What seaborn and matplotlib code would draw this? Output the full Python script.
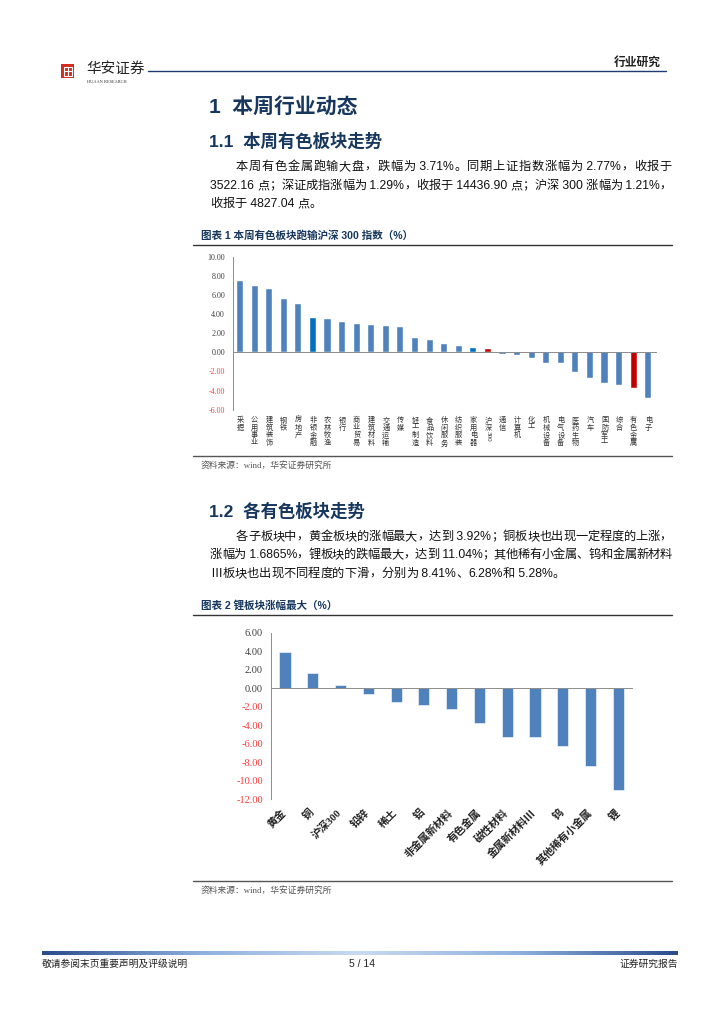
import matplotlib
matplotlib.use('Agg')
import matplotlib.pyplot as plt
import matplotlib.transforms as mtrans
from matplotlib.lines import Line2D
from matplotlib.patches import Rectangle
from matplotlib.colors import LinearSegmentedColormap
import seaborn as sns
import pandas as pd
import numpy as np

sns.set_theme(style='white')
plt.rcParams['font.family'] = ['Liberation Sans', 'Noto Sans CJK SC', 'DejaVu Sans']
plt.rcParams['axes.unicode_minus'] = False

# ---------------- data ----------------
sectors = ['采掘', '公用事业', '建筑装饰', '钢铁', '房地产', '非银金融', '农林牧渔', '银行',
           '商业贸易', '建筑材料', '交通运输', '传媒', '轻工制造', '食品饮料', '休闲服务',
           '纺织服装', '家用电器', '沪深300', '通信', '计算机', '化工', '机械设备', '电气设备',
           '医药生物', '汽车', '国防军工', '综合', '有色金属', '电子']
sector_chg = [7.49, 6.93, 6.59, 5.57, 5.09, 3.62, 3.48, 3.14, 3.00, 2.89, 2.72, 2.61,
              1.53, 1.29, 0.87, 0.63, 0.45, 0.31, -0.17, -0.25, -0.60, -1.15, -1.15,
              -2.03, -2.66, -3.25, -3.43, -3.71, -4.76]
dark_sectors = ['非银金融', '家用电器']
red_sectors = ['沪深300', '有色金属']
ticks1 = [-6, -4, -2, 0, 2, 4, 6, 8, 10]

subsectors = ['黄金', '铜', '沪深300', '铅锌', '稀土', '铝', '非金属新材料', '有色金属',
              '磁性材料', '金属新材料Ⅲ', '钨', '其他稀有小金属', '锂']
sub_chg = [3.92, 1.6865, 0.32, -0.58, -1.44, -1.80, -2.27, -3.71, -5.22, -5.28, -6.28,
           -8.41, -11.04]
ticks2 = [-12, -10, -8, -6, -4, -2, 0, 2, 4, 6]

para1 = ['本周有色金属跑输大盘，跌幅为 3.71%。同期上证指数涨幅为 2.77%，收报于',
         '3522.16 点；深证成指涨幅为 1.29%，收报于 14436.90 点；沪深 300 涨幅为 1.21%，',
         '收报于 4827.04 点。']
para2 = ['各子板块中，黄金板块的涨幅最大，达到 3.92%；铜板块也出现一定程度的上涨，',
         '涨幅为 1.6865%，锂板块的跌幅最大，达到 11.04%；其他稀有小金属、钨和金属新材料',
         'Ⅲ板块也出现不同程度的下滑，分别为 8.41%、6.28%和 5.28%。']

# ---------------- page ----------------
W, H = 724, 1024
fig = plt.figure(figsize=(W / 100, H / 100), dpi=100)
fig.patch.set_facecolor('white')
renderer = fig.canvas.get_renderer()


def fx(x):
    return x / W


def fy(y):
    return 1 - y / H


def ptext(x, y, s, **kw):
    return fig.text(fx(x), fy(y), s, **kw)


def hline(x0, x1, y, **kw):
    fig.add_artist(Line2D([fx(x0), fx(x1)], [fy(y), fy(y)], transform=fig.transFigure, **kw))


def tokenize(s):
    toks, run = [], ''
    for c in s:
        if ord(c) < 0x2000:
            run += c
        else:
            if run:
                toks.append(run)
                run = ''
            toks.append(c)
    if run:
        toks.append(run)
    return toks


def justify(x0, x1, y, s, justified=True, **kw):
    toks = tokenize(s)
    arts = [ptext(0, y, t, va='center', ha='left', **kw) for t in toks]
    widths = [a.get_window_extent(renderer).width for a in arts]
    if justified and len(toks) > 1:
        gap = (x1 - x0 - sum(widths)) / (len(toks) - 1)
    else:
        gap = 0.0
    x = x0
    for a, w in zip(arts, widths):
        a.set_position((fx(x), fy(y)))
        x += w + gap


NAVY = '#17375E'
BLUE = '#4F81BD'
DARK = '#0070C0'
RED = '#C00000'
NEG = '#FF3B3B'
GRAY_AX = '#8C8C8C'
SERIF = ['Liberation Serif', 'Noto Sans CJK SC']

# header
fig.add_artist(Rectangle((fx(61), fy(78)), fx(74) - fx(61), fy(64) - fy(78),
                         transform=fig.transFigure, facecolor='#D42A1F', edgecolor='none'))
fig.add_artist(Rectangle((fx(63.5), fy(75.5)), fx(71.5) - fx(63.5), fy(66.5) - fy(75.5),
                         transform=fig.transFigure, facecolor='none', edgecolor='white', lw=0.8))
fig.add_artist(Line2D([fx(67.5), fx(67.5)], [fy(66.5), fy(75.5)], transform=fig.transFigure,
                      color='white', lw=0.8))
fig.add_artist(Line2D([fx(63.5), fx(71.5)], [fy(71), fy(71)], transform=fig.transFigure,
                      color='white', lw=0.8))
ptext(86, 69, '华安证券', fontsize=10.5, color='#222222', va='center', ha='left')
ptext(87, 82, 'HUAAN RESEARCH', fontsize=3.2, color='#333333', va='center', ha='left',
      family=SERIF)
hline(148, 666, 71, color='#1F3A6E', lw=1.0)
ptext(661, 63, '行业研究', fontsize=8.5, fontweight='bold', color='#222222', va='center',
      ha='right')

# headings and text
ptext(209, 107, '1  本周行业动态', fontsize=15, fontweight='bold', color=NAVY, va='center')
ptext(209, 141, '1.1  本周有色板块走势', fontsize=12.5, fontweight='bold', color=NAVY,
      va='center')
for i, (line, y) in enumerate(zip(para1, [167, 186, 204])):
    justify(236 if i == 0 else 210, 672, y, line, justified=(i < len(para1) - 1),
            fontsize=8.8, color='#111111')
ptext(201, 236, '图表 1 本周有色板块跑输沪深 300 指数（%）', fontsize=7.6, fontweight='bold',
      color=NAVY, va='center')
hline(193, 672, 245, color='#333333', lw=1.0)

ptext(209, 511, '1.2  各有色板块走势', fontsize=12.5, fontweight='bold', color=NAVY,
      va='center')
for i, (line, y) in enumerate(zip(para2, [537, 555, 574])):
    justify(236 if i == 0 else 210, 672, y, line, justified=(i < len(para2) - 1),
            fontsize=8.8, color='#111111')
ptext(201, 605, '图表 2 锂板块涨幅最大（%）', fontsize=7.6, fontweight='bold', color=NAVY,
      va='center')
hline(193, 672, 615, color='#333333', lw=1.0)

# ---------------- chart 1 ----------------
ax1 = fig.add_axes([fx(232.7), fy(409.7), fx(655.6) - fx(232.7), fy(256.7) - fy(409.7)])
df1 = pd.DataFrame({'sector': sectors, 'chg': sector_chg})
pal1 = {s: (RED if s in red_sectors else DARK if s in dark_sectors else BLUE) for s in sectors}
sns.barplot(data=df1, x='sector', y='chg', hue='sector', palette=pal1, dodge=False,
            legend=False, width=0.42, ax=ax1, edgecolor='white', linewidth=0.3,
            saturation=1)
n1 = len(sectors)
ax1.set_xlim(-0.5, n1 - 0.5)
ax1.set_ylim(-6, 10)
ax1.set_xlabel('')
ax1.set_ylabel('')
for s in ['top', 'right']:
    ax1.spines[s].set_visible(False)
ax1.spines['bottom'].set_position(('data', 0))
for s in ['left', 'bottom']:
    ax1.spines[s].set_color(GRAY_AX)
    ax1.spines[s].set_linewidth(0.7)
ax1.set_xticks(np.arange(-0.5, n1, 1.0), labels=[])
ax1.set_yticks(ticks1, labels=[f'{v:.2f}' for v in ticks1])
ax1.tick_params(axis='both', direction='out', length=2.5, width=0.6, color=GRAY_AX)
ax1.tick_params(axis='y', labelsize=5.8, pad=3)
for lab, v in zip(ax1.get_yticklabels(), ticks1):
    lab.set_family(SERIF)
    lab.set_color(NEG if v < 0 else '#404040')

# stacked (vertical) category labels
LAB1_FS = 5.2
char_h = LAB1_FS * 100 / 72 * 1.05
base1 = mtrans.blended_transform_factory(ax1.transData, ax1.transAxes)
for i, s in enumerate(sectors):
    dy = 6.5
    for tok in tokenize(s):
        tr = mtrans.offset_copy(base1, fig=fig, x=0, y=-dy, units='dots')
        if ord(tok[0]) < 0x2000:
            t = ax1.text(i, 0, tok, transform=tr, rotation=-90, ha='center', va='top',
                         fontsize=LAB1_FS, color='#333333', family=SERIF)
            dy += t.get_window_extent(renderer).height + 0.5
        else:
            ax1.text(i, 0, tok, transform=tr, ha='center', va='top', fontsize=LAB1_FS,
                     color='#333333', family=SERIF)
            dy += char_h
hline(193, 672, 456, color='#555555', lw=1.0)
ptext(201, 465, '资料来源：wind，华安证券研究所', fontsize=6.3, color='#555555', va='center',
      family=SERIF)

# ---------------- chart 2 ----------------
ax2 = fig.add_axes([fx(271.1), fy(799.3), fx(632.2) - fx(271.1), fy(632.7) - fy(799.3)])
df2 = pd.DataFrame({'sub': subsectors, 'chg': sub_chg})
sns.barplot(data=df2, x='sub', y='chg', color=BLUE, width=0.4, ax=ax2, edgecolor='white',
            linewidth=0.4, saturation=1)
n2 = len(subsectors)
ax2.set_xlim(-0.5, n2 - 0.5)
ax2.set_ylim(-12, 6)
ax2.set_xlabel('')
ax2.set_ylabel('')
for s in ['top', 'right']:
    ax2.spines[s].set_visible(False)
ax2.spines['bottom'].set_position(('data', 0))
for s in ['left', 'bottom']:
    ax2.spines[s].set_color(GRAY_AX)
    ax2.spines[s].set_linewidth(0.7)
ax2.set_xticks(np.arange(-0.5, n2, 1.0), labels=[])
ax2.set_yticks(ticks2, labels=[f'{v:.2f}' for v in ticks2])
ax2.tick_params(axis='both', direction='out', length=3, width=0.6, color=GRAY_AX)
ax2.tick_params(axis='y', labelsize=7.5, pad=3)
for lab, v in zip(ax2.get_yticklabels(), ticks2):
    lab.set_family(SERIF)
    lab.set_color(NEG if v < 0 else '#404040')
tr2 = mtrans.offset_copy(mtrans.blended_transform_factory(ax2.transData, ax2.transAxes),
                         fig=fig, x=0, y=-8, units='dots')
for i, s in enumerate(subsectors):
    ax2.text(i + 0.12, 0, s, transform=tr2, rotation=45, ha='right', va='top', fontsize=7.6,
             fontweight='bold', color='#222222', family=SERIF)
hline(193, 672, 881, color='#555555', lw=1.0)
ptext(201, 890, '资料来源：wind，华安证券研究所', fontsize=6.3, color='#555555', va='center',
      family=SERIF)

# ---------------- footer ----------------
cmap = LinearSegmentedColormap.from_list('ft', ['#2B4C8C', '#8FB1DE', '#C9DAF0', '#8FB1DE',
                                                '#2B4C8C'])
axf = fig.add_axes([fx(42), fy(955), fx(678) - fx(42), fy(951) - fy(955)])
axf.imshow(np.linspace(0, 1, 300)[None, :], aspect='auto', cmap=cmap)
axf.axis('off')
ptext(42, 964, '敬请参阅末页重要声明及评级说明', fontsize=7, color='#222222', va='center')
ptext(362, 964, '5 / 14', fontsize=7.5, color='#222222', va='center', ha='center')
ptext(678, 964, '证券研究报告', fontsize=7, color='#222222', va='center', ha='right')

fig.savefig('out.png', dpi=100, facecolor='white')
